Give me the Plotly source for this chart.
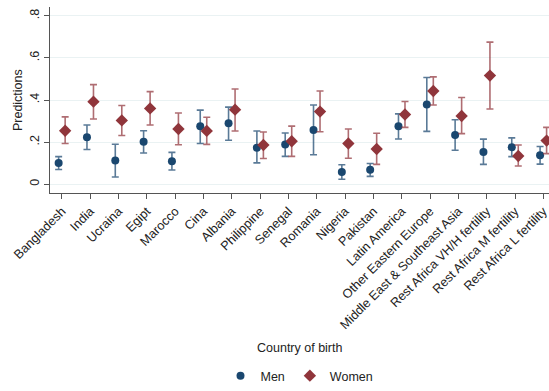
import plotly.graph_objects as go

categories = ["Bangladesh", "India", "Ucraina", "Egipt", "Marocco", "Cina", "Albania",
              "Philippine", "Senegal", "Romania", "Nigeria", "Pakistan", "Latin America",
              "Other Eastern Europe", "Middle East & Southeast Asia",
              "Rest Africa VH/H fertility", "Rest Africa M fertility", "Rest Africa L fertility"]

men_pred = [0.100, 0.223, 0.112, 0.201, 0.109, 0.275, 0.289, 0.173, 0.189, 0.257,
            0.058, 0.069, 0.275, 0.379, 0.234, 0.153, 0.176, 0.137]
men_low = [0.070, 0.165, 0.034, 0.148, 0.067, 0.193, 0.209, 0.101, 0.132, 0.140,
           0.023, 0.037, 0.215, 0.251, 0.161, 0.094, 0.131, 0.095]
men_high = [0.131, 0.281, 0.190, 0.254, 0.151, 0.352, 0.366, 0.253, 0.243, 0.376,
            0.092, 0.098, 0.334, 0.507, 0.306, 0.214, 0.220, 0.179]

women_pred = [0.254, 0.392, 0.303, 0.360, 0.262, 0.253, 0.354, 0.186, 0.204, 0.345,
              0.193, 0.167, 0.331, 0.443, 0.324, 0.516, 0.134, 0.207]
women_low = [0.193, 0.310, 0.231, 0.281, 0.187, 0.189, 0.253, 0.122, 0.132, 0.249,
             0.123, 0.094, 0.270, 0.376, 0.240, 0.357, 0.086, 0.145]
women_high = [0.320, 0.473, 0.374, 0.440, 0.338, 0.318, 0.452, 0.248, 0.276, 0.443,
              0.262, 0.242, 0.393, 0.510, 0.412, 0.675, 0.186, 0.270]

y_tickvals = [0, 0.2, 0.4, 0.6, 0.8]
y_ticktext = ["0", ".2", ".4", ".6", ".8"]

NAVY = "#1a476f"
MAROON = "#90353b"
FONT = "Liberation Sans, Arial, sans-serif"

fig = go.Figure()


def add_series(name, pred, low, high, color, bar_color, symbol, size):
    fig.add_trace(go.Scatter(
        x=categories, y=pred, name=name, mode="markers",
        marker=dict(color=color, symbol=symbol, size=size, line=dict(width=0)),
        error_y=dict(type="data", symmetric=False,
                     array=[h - p for h, p in zip(high, pred)],
                     arrayminus=[p - l for p, l in zip(pred, low)],
                     color=bar_color, thickness=1.6, width=3.5),
    ))


add_series("Men", men_pred, men_low, men_high, NAVY, "rgba(26,71,111,0.72)", "circle", 8)
add_series("Women", women_pred, women_low, women_high, MAROON, "rgba(144,53,59,0.72)", "diamond", 9.5)

fig.update_layout(
    width=549, height=391,
    margin=dict(l=50, r=0, t=7, b=195),
    paper_bgcolor="white", plot_bgcolor="white",
    font=dict(family=FONT, size=12, color="#222"),
    scattermode="group", scattergap=0.54,
    showlegend=True,
    legend=dict(orientation="h", x=0.5, xanchor="center", y=-0.989, yanchor="middle",
                font=dict(size=12.5, color="#222"), itemwidth=30, tracegroupgap=0,
                bgcolor="rgba(0,0,0,0)"),
    xaxis=dict(
        type="category", range=[-0.42, 17.2], automargin=False,
        tickangle=-45, ticks="outside", ticklen=5, tickcolor="#555",
        showline=True, linecolor="#555", linewidth=1,
        showgrid=False, zeroline=False,
        tickfont=dict(size=12.7, color="#222"),
    ),
    yaxis=dict(
        range=[-0.042, 0.842], automargin=False,
        tickvals=y_tickvals, ticktext=y_ticktext, tickangle=-90,
        ticks="outside", ticklen=5, tickcolor="#555",
        showline=True, linecolor="#555", linewidth=1,
        showgrid=True, gridcolor="#eaf2f3", gridwidth=1, zeroline=False,
        tickfont=dict(size=12.5, color="#222"),
    ),
    annotations=[
        dict(text="Country of birth", xref="paper", yref="paper", x=0.5, y=-0.836,
             xanchor="center", yanchor="middle", showarrow=False,
             font=dict(size=12.5, color="#222")),
        dict(text="Predictions", xref="paper", yref="paper", x=-0.064, y=0.5,
             xanchor="center", yanchor="middle", textangle=-90, showarrow=False,
             font=dict(size=12.5, color="#222")),
    ],
)

fig.write_html("out.html", config={"displayModeBar": False},
               post_script="document.body.style.margin='0';document.body.style.overflow='hidden';")
